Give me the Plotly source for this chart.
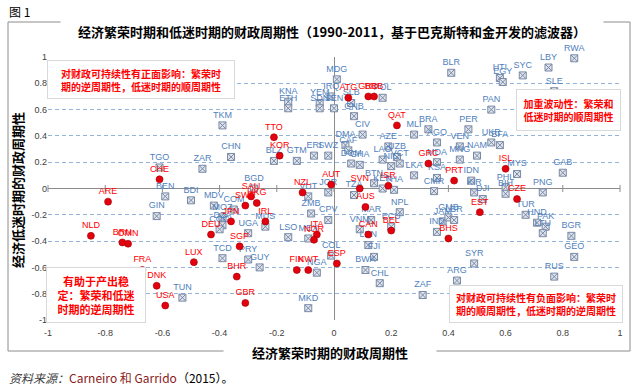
import plotly.graph_objects as go

# ---------------- data ----------------
tick_vals = [-1, -0.8, -0.6, -0.4, -0.2, 0, 0.2, 0.4, 0.6, 0.8, 1]
tick_text = ["-1", "-0.8", "-0.6", "-0.4", "-0.2", "0", "0.2", "0.4", "0.6", "0.8", "1"]

red_labels = ["ARE", "NLD", "BRN", "OMN", "FRA", "DNK", "USA", "LUX", "DEU", "CHE",
              "SGP", "BHR", "GBR", "SAU", "HKG", "SWE", "JPN", "IRL", "NZL", "AUT",
              "ITA", "NOR", "FIN", "KWT", "ESP", "SVN", "AUS", "CAN", "BEL", "ISR",
              "GRC", "PRT", "BHS", "EST", "CZE", "ISL", "QAT", "ATG", "GRD", "BRB",
              "TTO", "KOR"]
red_x = [-0.79, -0.85, -0.74, -0.72, -0.67, -0.62, -0.59, -0.49, -0.43, -0.61,
         -0.33, -0.34, -0.31, -0.29, -0.27, -0.31, -0.36, -0.24, -0.11, -0.01,
         -0.06, -0.07, -0.13, -0.09, 0.01, 0.09, 0.11, 0.12, 0.20, 0.19,
         0.33, 0.42, 0.40, 0.51, 0.64, 0.60, 0.22, 0.05, 0.12, 0.14,
         -0.21, -0.19]
red_y = [-0.10, -0.36, -0.41, -0.42, -0.62, -0.74, -0.89, -0.56, -0.35, 0.07,
         -0.44, -0.67, -0.87, -0.06, -0.11, -0.13, -0.25, -0.25, -0.03, 0.03,
         -0.35, -0.39, -0.62, -0.62, -0.57, 0.00, -0.14, -0.35, -0.32, 0.02,
         0.19, 0.06, -0.38, -0.18, -0.08, 0.15, 0.48, 0.69, 0.70, 0.70,
         0.39, 0.25]

blue_labels = ["RWA", "LBY", "SYC", "HTI", "EGY", "SLE", "BLR", "PAN", "BRA", "AGO",
               "PER", "UKR", "BFA", "VEN", "NAM", "MNG", "MDA", "KSA", "CMR", "IDN",
               "KIR", "DJI", "MYS", "PHL", "BIH", "GAB", "PNG", "TUR", "HND", "PAK",
               "LTU", "BGR", "GEO", "RUS", "SYR", "ARG", "ZAF", "IND", "JAM", "GMB",
               "LBR", "MLI", "AZE", "CIV", "GNB", "SLB", "POL", "MDG", "IRQ", "DMA",
               "CAF", "DOM", "GHA", "LAO", "UZB", "VCT", "NIC", "LKA", "BTN", "KEN",
               "THA", "NPL", "TZA", "MAR", "VNM", "ECU", "LBN", "FJI", "BWA", "CHL",
               "KNA", "ETH", "YEM", "SDN", "SEN", "ERI", "SWZ", "BLZ", "GTM", "TKM",
               "CHN", "TGO", "ZAR", "BGD", "BEN", "BDI", "GIN", "MDV", "MOZ", "COM",
               "DZA", "COG", "UGA", "MUS", "LSO", "TCD", "PRY", "GUY", "TUN", "MKD",
               "NGA", "COL", "ZMB", "MEX", "CPV", "VUT", "JOR"]
blue_x = [0.84, 0.75, 0.66, 0.58, 0.59, 0.77, 0.41, 0.55, 0.33, 0.36,
          0.47, 0.55, 0.58, 0.44, 0.50, 0.44, 0.36, 0.36, 0.35, 0.48,
          0.49, 0.52, 0.64, 0.60, 0.60, 0.80, 0.73, 0.67, 0.71, 0.74,
          0.73, 0.83, 0.84, 0.77, 0.49, 0.43, 0.31, 0.36, 0.38, 0.40,
          0.42, 0.28, 0.19, 0.10, 0.07, 0.06, 0.17, 0.01, -0.01, 0.04,
          0.05, 0.06, 0.09, 0.17, 0.22, 0.23, 0.20, 0.28, 0.14, 0.17,
          0.21, 0.23, 0.07, 0.13, 0.09, 0.20, 0.12, 0.14, 0.11, 0.16,
          -0.16, -0.16, -0.05, -0.05, 0.00, -0.07, -0.02, -0.21, -0.13, -0.39,
          -0.36, -0.61, -0.46, -0.28, -0.59, -0.50, -0.62, -0.42, -0.39, -0.35,
          -0.39, -0.40, -0.30, -0.24, -0.16, -0.39, -0.30, -0.26, -0.53, -0.09,
          -0.06, -0.01, -0.08, -0.09, -0.02, -0.09, -0.02]
blue_y = [0.99, 0.92, 0.86, 0.84, 0.81, 0.74, 0.88, 0.60, 0.45, 0.35,
          0.45, 0.35, 0.33, 0.32, 0.25, 0.22, 0.20, 0.08, -0.02, 0.06,
          -0.03, -0.08, 0.11, 0.01, -0.04, 0.12, -0.03, -0.20, -0.26, -0.29,
          -0.34, -0.36, -0.52, -0.67, -0.57, -0.70, -0.81, -0.33, -0.25, -0.22,
          -0.24, 0.41, 0.32, 0.41, 0.55, 0.65, 0.69, 0.83, 0.70, 0.33,
          0.29, 0.19, 0.18, 0.22, 0.24, 0.19, 0.17, 0.10, 0.04, 0.00,
          -0.01, -0.18, -0.05, -0.24, -0.31, -0.29, -0.43, -0.52, -0.62, -0.72,
          0.66, 0.61, 0.65, 0.61, 0.61, 0.25, 0.25, 0.21, 0.21, 0.48,
          0.24, 0.16, 0.15, 0.00, -0.06, -0.09, -0.21, -0.13, -0.22, -0.16,
          -0.28, -0.31, -0.34, -0.29, -0.37, -0.53, -0.54, -0.60, -0.83, -0.91,
          -0.64, -0.51, -0.19, -0.38, -0.24, -0.06, -0.03]

title_text = "经济繁荣时期和低迷时期的财政周期性（1990-2011，基于巴克斯特和金开发的滤波器）"
x_title = "经济繁荣时期的财政周期性"
y_title = "经济低迷时期的财政周期性"
fig_label = "图 1"
box_texts = [
    "对财政可持续性有正面影响：繁荣时<br>期的逆周期性，低迷时期的顺周期性",
    "加重波动性：繁荣和<br>低迷时期的顺周期性",
    "有助于产出稳<br>定：繁荣和低迷<br>时期的逆周期性",
    "对财政可持续性有负面影响：繁荣时<br>期的顺周期性，低迷时期的逆周期性",
]

# ---------------- layout helpers (pixel -> paper) ----------------
W, H = 635, 386
ML, MR, MT, MB = 48, 15, 57, 66
PW, PH = W - ML - MR, H - MT - MB


def px(x):
    return (x - ML) / PW


def py(y):
    return (H - MB - y) / PH


CJK = "Noto Sans CJK SC"
LAT = "Liberation Sans"

fig = go.Figure()

# small tick marks on the horizontal zero axis
fig.add_trace(go.Scatter(
    x=tick_vals, y=[0] * len(tick_vals), mode="markers",
    marker=dict(symbol="line-ns", size=5, line=dict(color="#8c8c8c", width=1)),
    hoverinfo="skip", cliponaxis=False))

fig.add_trace(go.Scatter(
    x=blue_x, y=blue_y, mode="markers+text", text=blue_labels,
    textposition="top center",
    textfont=dict(family=LAT, size=9, color="#4f81bd"),
    marker=dict(symbol="square-x", size=7, color="#dfe4ec",
                line=dict(color="#7a8aa6", width=1)),
    cliponaxis=False))

fig.add_trace(go.Scatter(
    x=red_x, y=red_y, mode="markers+text", text=red_labels,
    textposition="top center",
    textfont=dict(family=LAT, size=9, color="#ff0000"),
    marker=dict(symbol="circle", size=7, color="#e3000f",
                line=dict(color="#a00000", width=0.6)),
    cliponaxis=False))

annotations = []
# chart title (breaks the frame's top line)
annotations.append(dict(x=px(332), y=py(31), xref="paper", yref="paper",
                        text="<b>" + title_text + "</b>", showarrow=False,
                        font=dict(family=CJK, size=13, color="#000000"),
                        bgcolor="white", width=540, height=20,
                        xanchor="center", yanchor="middle"))
annotations.append(dict(x=px(330), y=py(352), xref="paper", yref="paper",
                        text="<b>" + x_title + "</b>", showarrow=False,
                        font=dict(family=CJK, size=13, color="#000000"),
                        bgcolor="white", width=210, height=20,
                        xanchor="center", yanchor="middle"))
annotations.append(dict(x=px(17), y=py(190), xref="paper", yref="paper",
                        text="<b>" + y_title + "</b>", showarrow=False, textangle=-90,
                        font=dict(family=CJK, size=13, color="#000000"),
                        xanchor="center", yanchor="middle"))
annotations.append(dict(x=px(7), y=py(12), xref="paper", yref="paper",
                        text=fig_label, showarrow=False,
                        font=dict(family=CJK, size=12, color="#000000"),
                        xanchor="left", yanchor="middle"))
annotations.append(dict(x=px(7), y=py(377), xref="paper", yref="paper",
                        text="<i><span style='color:#404040'>资料来源：</span></i>"
                             "<span style='color:#8b1a1a'>Carneiro 和 Garrido</span>（2015）。",
                        showarrow=False,
                        font=dict(family=CJK, size=12, color="#000000"),
                        xanchor="left", yanchor="middle"))

# white text boxes (centre x, centre y, width, height, font size)
box_geom = [(141, 79.5, 186, 37, 10), (568.5, 110, 103, 40, 10),
            (96, 295, 98, 54, 11), (536, 304, 172, 36, 10)]
for txt, (cx, cy, bw, bh, fs) in zip(box_texts, box_geom):
    annotations.append(dict(x=px(cx), y=py(cy), xref="paper", yref="paper",
                            text="<b>" + txt + "</b>", showarrow=False,
                            font=dict(family=CJK, size=fs, color="#ff0000"),
                            bgcolor="white", bordercolor="#d9d9d9", borderwidth=1,
                            borderpad=0, width=bw, height=bh,
                            xanchor="center", yanchor="middle", align="center"))

shapes = [dict(type="rect", xref="paper", yref="paper",
               x0=px(8), x1=px(630), y0=py(351), y1=py(22),
               line=dict(color="#8c8c8c", width=1), fillcolor="rgba(0,0,0,0)",
               layer="below")]

fig.update_layout(
    width=W, height=H,
    margin=dict(l=ML, r=MR, t=MT, b=MB),
    paper_bgcolor="white", plot_bgcolor="white",
    showlegend=False,
    font=dict(family=CJK),
    annotations=annotations, shapes=shapes,
    xaxis=dict(range=[-1, 1], tickvals=tick_vals, ticktext=tick_text,
               showgrid=False, zeroline=True, zerolinecolor="#8c8c8c", zerolinewidth=1,
               showline=False, ticks="", ticklabelstandoff=6,
               tickfont=dict(family=LAT, size=9, color="#404040")),
    yaxis=dict(range=[-1, 1], tickvals=tick_vals, ticktext=tick_text,
               showgrid=True, gridcolor="#95b3d7", griddash="4px,3px", gridwidth=1,
               zeroline=True, zerolinecolor="#8c8c8c", zerolinewidth=1,
               showline=False, ticks="",
               tickfont=dict(family=LAT, size=9, color="#404040")),
)

fig.write_html("out.html",
               config={"displayModeBar": False},
               post_script="document.body.style.margin='0';"
                           "document.body.style.overflow='hidden';")
